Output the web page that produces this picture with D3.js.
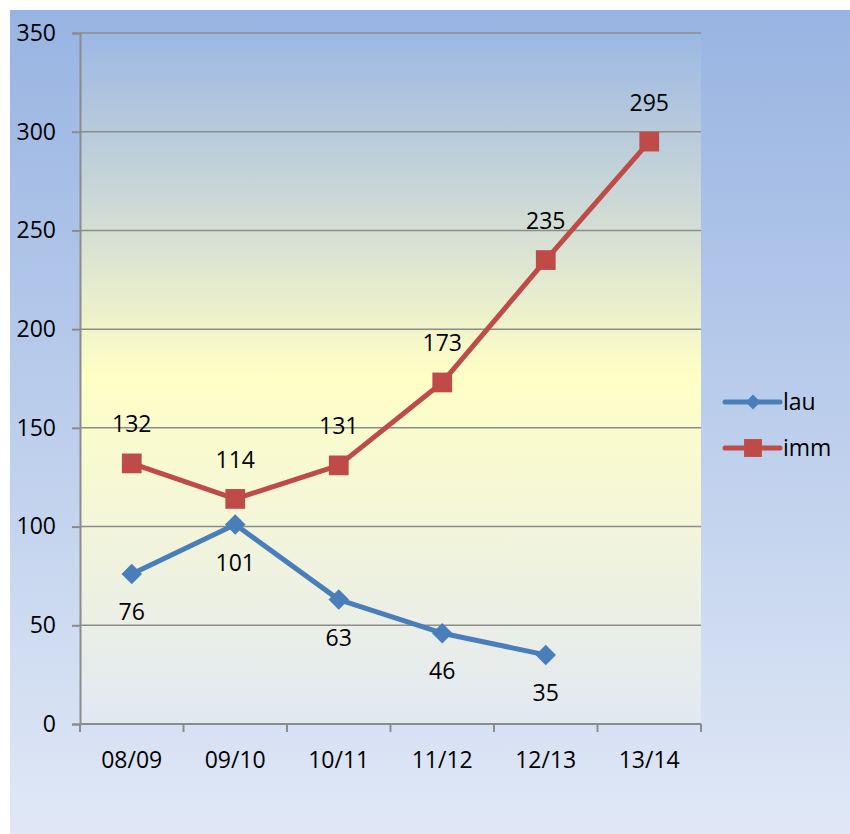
<!DOCTYPE html>
<html>
<head>
<meta charset="utf-8">
<script src="https://cdn.jsdelivr.net/npm/d3@7"></script>
<style>
  body { margin: 0; background: #fff; }
  text { font-family: "Open Sans", "Noto Sans", sans-serif; }
</style>
</head>
<body>
<div id="chart"></div>
<script>
// data
const categories = ['08/09', '09/10', '10/11', '11/12', '12/13', '13/14']
const lau = [76, 101, 63, 46, 35, null]
const imm = [132, 114, 131, 173, 235, 295]
const yTicks = [0, 50, 100, 150, 200, 250, 300, 350]

const series = [
  { name: 'lau', values: lau, color: '#4a7ebb', rotate: 45, size: 210, legendSize: 110, labelPos: 'below' },
  { name: 'imm', values: imm, color: '#be4b48', rotate: 0, size: 390, legendSize: 320, labelPos: 'above' }
]

const fontSize = 23

// dimensions
let dimensions = {
  width: 850,
  height: 834,
  margin: { top: 33, right: 149, bottom: 110, left: 80 }
}
dimensions.ctrWidth = dimensions.width - dimensions.margin.left - dimensions.margin.right
dimensions.ctrHeight = dimensions.height - dimensions.margin.top - dimensions.margin.bottom

const svg = d3.select('#chart')
  .append('svg')
  .attr('width', dimensions.width)
  .attr('height', dimensions.height)

const defs = svg.append('defs')
const outerGrad = defs.append('linearGradient')
  .attr('id', 'outerGrad').attr('x1', 0).attr('y1', 0).attr('x2', 0).attr('y2', 1)
outerGrad.append('stop').attr('offset', '0%').attr('stop-color', '#98b4e2')
outerGrad.append('stop').attr('offset', '100%').attr('stop-color', '#e0e8f6')

const plotGrad = defs.append('linearGradient')
  .attr('id', 'plotGrad').attr('x1', 0).attr('y1', 0).attr('x2', 0).attr('y2', 1)
plotGrad.append('stop').attr('offset', '0%').attr('stop-color', '#9cb8e4')
plotGrad.append('stop').attr('offset', '25%').attr('stop-color', '#cdd9d6')
plotGrad.append('stop').attr('offset', '50%').attr('stop-color', '#ffffc6')
plotGrad.append('stop').attr('offset', '100%').attr('stop-color', '#e2e8f3')

// backgrounds
svg.append('rect')
  .attr('x', 10).attr('y', 10)
  .attr('width', dimensions.width - 10)
  .attr('height', dimensions.height - 10)
  .attr('fill', 'url(#outerGrad)')

const ctr = svg.append('g')
  .attr('transform', `translate(${dimensions.margin.left}, ${dimensions.margin.top})`)

ctr.append('rect')
  .attr('width', dimensions.ctrWidth)
  .attr('height', dimensions.ctrHeight)
  .attr('fill', 'url(#plotGrad)')

// scales
const xScale = d3.scaleBand()
  .domain(categories)
  .range([0, dimensions.ctrWidth])
const yScale = d3.scaleLinear()
  .domain([0, 350])
  .range([dimensions.ctrHeight, 0])

// gridlines
ctr.append('g')
  .selectAll('line')
  .data(yTicks.slice(1))
  .join('line')
  .attr('x1', 0)
  .attr('x2', dimensions.ctrWidth)
  .attr('y1', d => yScale(d))
  .attr('y2', d => yScale(d))
  .attr('stroke', '#8c8c8c')
  .attr('stroke-width', 1.5)

// axes
const yAxis = d3.axisLeft(yScale)
  .tickValues(yTicks)
  .tickSize(8)
  .tickPadding(16)
const yAxisGroup = ctr.append('g').call(yAxis)
yAxisGroup.select('.domain').attr('stroke', '#8c8c8c').attr('stroke-width', 2)
yAxisGroup.selectAll('.tick line').attr('stroke', '#8c8c8c').attr('stroke-width', 2)
yAxisGroup.selectAll('.tick text')
  .attr('font-size', fontSize)
  .attr('fill', '#000')
  .style('font-family', '"Open Sans", "Noto Sans", sans-serif')

const xAxisGroup = ctr.append('g')
  .attr('transform', `translate(0, ${dimensions.ctrHeight})`)
xAxisGroup.append('line')
  .attr('x1', 0).attr('x2', dimensions.ctrWidth)
  .attr('stroke', '#8c8c8c').attr('stroke-width', 2)
const bounds = categories.map(c => xScale(c)).concat([dimensions.ctrWidth])
xAxisGroup.selectAll('.xtick')
  .data(bounds)
  .join('line')
  .attr('class', 'xtick')
  .attr('x1', d => d).attr('x2', d => d)
  .attr('y1', 0).attr('y2', 8)
  .attr('stroke', '#8c8c8c').attr('stroke-width', 2)
xAxisGroup.selectAll('.xlabel')
  .data(categories)
  .join('text')
  .attr('class', 'xlabel')
  .attr('x', d => xScale(d) + xScale.bandwidth() / 2)
  .attr('y', 36)
  .attr('dy', '0.35em')
  .attr('text-anchor', 'middle')
  .attr('font-size', fontSize)
  .text(d => d)

// lines, markers, labels
const xPos = i => xScale(categories[i]) + xScale.bandwidth() / 2

series.forEach(s => {
  const pts = s.values.map((v, i) => ({ v, i })).filter(d => d.v !== null)
  const line = d3.line()
    .x(d => xPos(d.i))
    .y(d => yScale(d.v))
  ctr.append('path')
    .datum(pts)
    .attr('d', line)
    .attr('fill', 'none')
    .attr('stroke', s.color)
    .attr('stroke-width', 5)
    .attr('stroke-linejoin', 'round')

  ctr.append('g')
    .selectAll('path')
    .data(pts)
    .join('path')
    .attr('d', d3.symbol().type(d3.symbolSquare).size(s.size))
    .attr('transform', d => `translate(${xPos(d.i)}, ${yScale(d.v)}) rotate(${s.rotate})`)
    .attr('fill', s.color)

  ctr.append('g')
    .selectAll('text')
    .data(pts)
    .join('text')
    .attr('x', d => xPos(d.i))
    .attr('y', d => yScale(d.v) + (s.labelPos === 'above' ? -39 : 38))
    .attr('dy', '0.35em')
    .attr('text-anchor', 'middle')
    .attr('font-size', fontSize)
    .text(d => d.v)
})

// legend
const legend = svg.append('g')
  .attr('transform', 'translate(725, 402)')
series.forEach((s, i) => {
  const g = legend.append('g').attr('transform', `translate(0, ${i * 46})`)
  g.append('line')
    .attr('x1', 0).attr('x2', 55)
    .attr('stroke', s.color).attr('stroke-width', 5)
    .attr('stroke-linecap', 'round')
  g.append('path')
    .attr('d', d3.symbol().type(d3.symbolSquare).size(s.legendSize))
    .attr('transform', `translate(28, 0) rotate(${s.rotate})`)
    .attr('fill', s.color)
  g.append('text')
    .attr('x', 58)
    .attr('dy', '0.35em')
    .attr('font-size', fontSize)
    .text(s.name)
})
</script>
</body>
</html>
